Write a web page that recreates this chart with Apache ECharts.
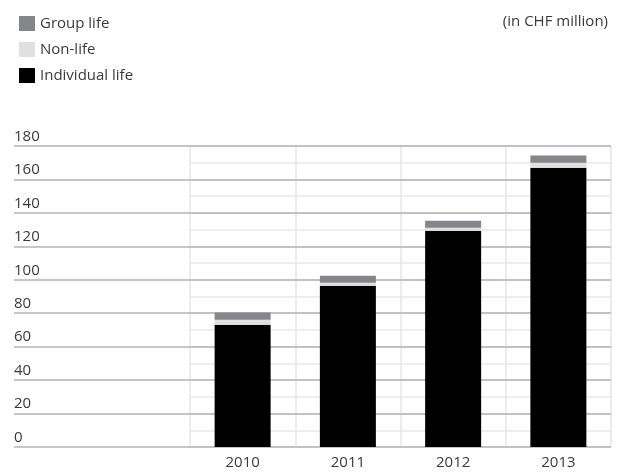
<!DOCTYPE html>
<html>
<head>
<meta charset="utf-8">
<script src="https://cdn.jsdelivr.net/npm/echarts@6/dist/echarts.min.js"></script>
<style>html,body{margin:0;padding:0;background:#fff}#c{width:619px;height:473px}</style>
</head>
<body>
<div id="c"></div>
<script>
var years = ['2010', '2011', '2012', '2013'];
var individualLife = [73.1, 96.4, 129.3, 167.0];
var nonLife = [3.0, 1.8, 1.8, 3.0];
var groupLife = [4.4, 4.2, 4.2, 4.3];
var yMax = 180;
var unitLabel = '(in CHF million)';

var font = '"Open Sans", "Noto Sans", sans-serif';
var textColor = '#3a3a3a';
var chart = echarts.init(document.getElementById('c'), null, {renderer: 'canvas'});
chart.setOption({
  animation: false,
  textStyle: {fontFamily: font},
  title: {
    text: unitLabel, right: 6, top: 9,
    textStyle: {fontSize: 15, fontWeight: 'normal', color: textColor, fontFamily: font}
  },
  legend: {
    orient: 'vertical', left: 14, top: 8,
    itemWidth: 16, itemHeight: 15, itemGap: 5, icon: 'rect',
    data: ['Group life', 'Non-life', 'Individual life'],
    textStyle: {fontSize: 15, color: textColor, fontFamily: font, lineHeight: 21}
  },
  grid: [
    {left: 14, right: 8, top: 146, bottom: 26, containLabel: false},
    {left: 190, right: 8, top: 146, bottom: 26, containLabel: false}
  ],
  xAxis: [
    {type: 'value', gridIndex: 0, show: false, min: 0, max: 1},
    {type: 'category', gridIndex: 1, data: years,
     axisLine: {show: false}, axisTick: {show: false},
     axisLabel: {color: textColor, fontSize: 15, margin: 8, fontFamily: font},
     splitLine: {show: true, lineStyle: {color: '#e6e6e8', width: 1.5}}}
  ],
  yAxis: [
    {type: 'value', gridIndex: 0, min: 0, max: yMax, interval: 20, z: 2,
     axisLine: {show: false}, axisTick: {show: false},
     axisLabel: {inside: true, margin: 0, verticalAlign: 'bottom', padding: [0, 0, 2, 0],
                 color: textColor, fontSize: 15, fontFamily: font},
     splitLine: {show: true, lineStyle: {color: '#b2b2ba', width: 1.5}}},
    {type: 'value', gridIndex: 1, min: 0, max: yMax, interval: 10, z: 0,
     axisLine: {show: false}, axisTick: {show: false}, axisLabel: {show: false},
     splitLine: {show: true, lineStyle: {color: '#e8e8ea', width: 1.5}}}
  ],
  series: [
    {name: 'Individual life', type: 'bar', stack: 's', xAxisIndex: 1, yAxisIndex: 1,
     barWidth: 56, z: 5, itemStyle: {color: '#000000'}, data: individualLife},
    {name: 'Non-life', type: 'bar', stack: 's', xAxisIndex: 1, yAxisIndex: 1,
     barWidth: 56, z: 5, itemStyle: {color: '#e0e0e2'}, data: nonLife},
    {name: 'Group life', type: 'bar', stack: 's', xAxisIndex: 1, yAxisIndex: 1,
     barWidth: 56, z: 5, itemStyle: {color: '#858689'}, data: groupLife}
  ]
});
</script>
</body>
</html>
